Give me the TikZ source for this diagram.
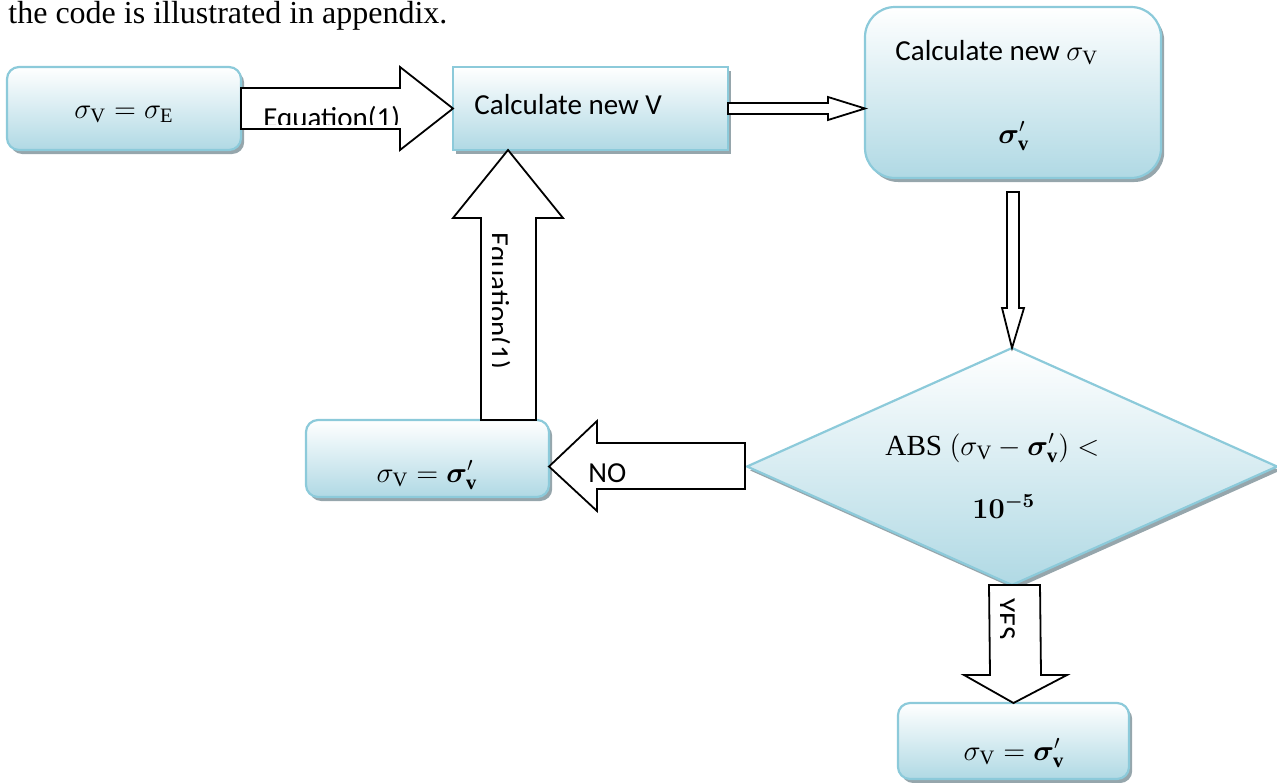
\documentclass[tikz,border=0pt]{standalone}
\usepackage{amsmath,bm}
\usepackage{fontspec}
\setmainfont{Liberation Serif}
\newfontfamily\calfont{Carlito}
\usetikzlibrary{shapes.geometric,shadows,calc}
\definecolor{bord}{RGB}{140,202,218}
\definecolor{fillb}{RGB}{176,217,228}
\definecolor{shad}{RGB}{150,166,172}
\tikzset{
  boxbase/.style={draw=bord, line width=1.1pt, top color=white, bottom color=fillb,
    inner sep=0pt, outer sep=0pt,
    drop shadow={shadow xshift=1.6pt, shadow yshift=-2pt, fill=shad, opacity=1}},
  rbox/.style={boxbase, rounded corners=6pt},
  sbox/.style={boxbase},
  dbox/.style={boxbase, diamond, aspect=2.2},
  barrow/.style={draw=black, fill=white, line width=0.9pt, line join=miter},
  lbl/.style={inner sep=0pt, font=\calfont\fontsize{14.5}{17}\selectfont},
  mlbl/.style={inner sep=0pt, font=\fontsize{14.6}{17}\selectfont},
}
\begin{document}
\begin{tikzpicture}[x=0.5pt,y=-0.5pt]
\useasboundingbox (0,0) rectangle (1277,782);
\node[inner sep=0pt, anchor=base west, font=\fontsize{16}{19}\selectfont] (top) at (8,23) {the code is illustrated in appendix.};

% boxes
\node[rbox, minimum width=117pt, minimum height=41.5pt] (b1) at (124,108.5) {};
\node[sbox, minimum width=137.5pt, minimum height=41.5pt] (b2) at (590.5,108.5) {};
\node[rbox, rounded corners=15pt, minimum width=148pt, minimum height=85.5pt] (b3) at (1013,92.5) {};
\node[dbox, minimum width=265pt, minimum height=118.5pt] (dia) at (1012,466.5) {};
\node[rbox, minimum width=121.5pt, minimum height=38.5pt] (b4) at (427.5,458.5) {};
\node[rbox, minimum width=115.5pt, minimum height=38pt] (b5) at (1013.5,741) {};

% texts in boxes
\node[mlbl, anchor=base] (t1) at (124,118) {$\sigma_{\mathrm{V}} = \sigma_{\mathrm{E}}$};
\node[lbl, anchor=base west] (t2) at (474,114) {Calculate new V};
\node[lbl, anchor=base west] (t3a) at (895,60) {Calculate new $\sigma_{\mathrm{V}}$};
\node[mlbl, anchor=base west] (t3b) at (998,143) {$\bm{\sigma}^{\prime}_{\mathbf{v}}$};
\node[mlbl, anchor=base] (t4) at (427,482) {$\sigma_{\mathrm{V}} = \bm{\sigma}^{\prime}_{\mathbf{v}}$};
\node[mlbl, anchor=base] (t5) at (1014,760) {$\sigma_{\mathrm{V}} = \bm{\sigma}^{\prime}_{\mathbf{v}}$};
\node[mlbl, anchor=base west] (td1) at (885,455) {ABS $(\sigma_{\mathrm{V}} - \bm{\sigma}^{\prime}_{\mathbf{v}})<$};
\node[mlbl, anchor=base west] (td2) at (972,518) {$\bm{10^{-5}}$};

% block arrows
\draw[barrow] ($(b1.east)+(0,-20.5)$) -- (400,88) -- (400,67) -- (b2.west)
  -- (400,150) -- (400,129) -- ($(b1.east)+(0,20.5)$) -- cycle;
\draw[barrow] ($(b2.east)+(0,-5.5)$) -- (828,103) -- (828,97) -- (b3.west |- b2.east)
  -- (828,120) -- (828,114) -- ($(b2.east)+(0,5.5)$) -- cycle;
\draw[barrow] ($(b3.south)+(-6,14)$) -- (1007,308) -- (1002,308) -- (dia.north)
  -- (1024,308) -- (1019,308) -- ($(b3.south)+(6,14)$) -- cycle;
\draw[barrow] (745,443) -- (597,443) -- (597,421) -- (b4.east |- dia.west)
  -- (597,511) -- (597,489) -- (745,489) -- cycle;
\draw[barrow] ($(b4.north)+(53.5,0)$) -- (481,218) -- (453,218) -- ($(b2.south west)+(55,0)$)
  -- (563,218) -- (536,218) -- ($(b4.north)+(108.5,0)$) -- cycle;
\draw[barrow] ($(dia.south)+(-23,0)$) -- (990,675) -- (964,675) -- (b5.north)
  -- (1067,675) -- (1041,675) -- ($(dia.south)+(28,0)$) -- cycle;

% clipped arrow labels
\begin{scope}
  \clip (241,89) rectangle (399,124);
  \node[lbl, anchor=base west] (eq1) at (263,127) {Equation(1)};
\end{scope}
\begin{scope}
  \clip (492,219) rectangle (535,419);
  \node[lbl, anchor=base west, rotate=-90] (eq2) at (489,232) {Equation(1)};
\end{scope}
\begin{scope}
  \clip (1000,586) rectangle (1040,674);
  \node[lbl, anchor=base west, rotate=-90] (yes) at (996,598) {YES};
\end{scope}
\node[lbl, anchor=base west] (no) at (588,482) {NO};
\end{tikzpicture}
\end{document}
